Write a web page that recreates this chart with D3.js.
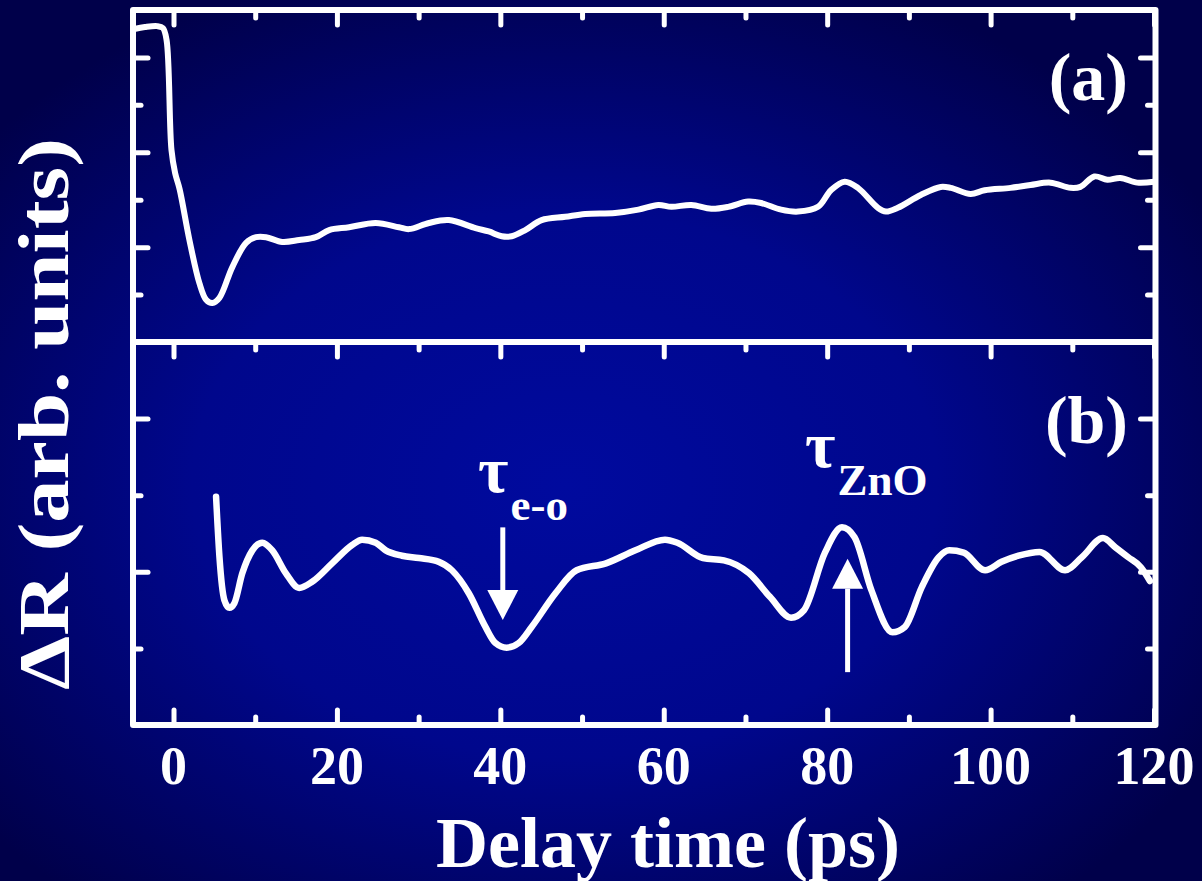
<!DOCTYPE html>
<html>
<head>
<meta charset="utf-8">
<script src="https://cdn.jsdelivr.net/npm/d3@7"></script>
<style>
  html, body { margin: 0; padding: 0; background: #000050; }
  svg { display: block; }
  text { font-family: "Liberation Serif", "Times New Roman", serif; font-weight: bold; fill: #fff; }
</style>
</head>
<body>
<div id="chart"></div>
<script>
// ---- data ----
// panel (a): delay (ps), dR (arb.)
const delayA = [-4.8, -3.5, -2, -1.3, -0.85, -0.25, 0.2, 0.75, 1.95, 3.17, 3.99, 4.76, 5.62, 7.2, 8.88, 10.1, 11.32, 13.31, 15.38, 17.42, 19.05, 21.49, 24.75, 27.59, 28.82, 31.26, 33.7, 36.96, 38.58, 40.17, 41.39, 43.06, 45.05, 47.95, 50.39, 54.05, 56.9, 59.34, 60.93, 63.37, 65.81, 67.89, 70.33, 71.92, 74.36, 76.43, 78.88, 80.46, 82.14, 83.76, 86.2, 87.18, 88.64, 91.45, 93.89, 95.12, 97.56, 99.27, 102.44, 104.88, 107.33, 109.77, 110.99, 112.7, 114.29, 115.87, 117.95, 120];
const valueA = [6.6, 6.64, 6.66, 6.62, 6.37, 4.05, 3.56, 3.22, 2.15, 1.24, 0.89, 0.82, 0.93, 1.58, 2.09, 2.21, 2.21, 2.11, 2.15, 2.21, 2.36, 2.42, 2.51, 2.42, 2.38, 2.51, 2.57, 2.4, 2.33, 2.23, 2.23, 2.36, 2.57, 2.64, 2.7, 2.72, 2.79, 2.89, 2.85, 2.89, 2.81, 2.85, 2.96, 2.93, 2.79, 2.75, 2.85, 3.2, 3.38, 3.25, 2.83, 2.75, 2.83, 3.1, 3.27, 3.25, 3.12, 3.2, 3.25, 3.31, 3.36, 3.25, 3.27, 3.49, 3.42, 3.46, 3.36, 3.38];

// panel (b): oscillatory part
const delayB = [5.21, 5.62, 6.23, 6.84, 7.45, 8.42, 9.65, 10.87, 12.09, 13.76, 15.38, 16.97, 19.41, 21.86, 23.08, 24.75, 25.97, 27.96, 30.04, 32.48, 34.07, 36.14, 38.18, 39.4, 40.78, 42.25, 43.83, 46.75, 49.33, 52.93, 56.53, 60.15, 61.66, 64.79, 67.36, 70.45, 73.02, 75.58, 77.17, 79.73, 81.81, 83.35, 85.41, 87.99, 89.5, 91.58, 93.65, 94.95, 96.7, 99.33, 101.34, 103.42, 105.98, 109.11, 111.17, 113.75, 115.27, 116.85, 118.39, 119.5];
const valueB = [2.98, 2.2, 1.63, 1.53, 1.59, 1.98, 2.28, 2.38, 2.28, 1.98, 1.79, 1.87, 2.11, 2.35, 2.42, 2.38, 2.28, 2.21, 2.18, 2.13, 2.02, 1.72, 1.28, 1.07, 1.01, 1.07, 1.28, 1.72, 2.02, 2.11, 2.28, 2.42, 2.38, 2.18, 2.15, 1.98, 1.67, 1.4, 1.5, 2.25, 2.58, 2.45, 1.76, 1.21, 1.28, 1.8, 2.19, 2.28, 2.25, 2.02, 2.13, 2.21, 2.26, 2.02, 2.19, 2.44, 2.32, 2.19, 2.06, 1.88];

const xTicks = [0, 20, 40, 60, 80, 100, 120];
const xMinor = [10, 30, 50, 70, 90, 110];
const yTicksA = [2, 4, 6], yMinorA = [1, 3, 5];
const yTicksB = [2, 4], yMinorB = [1, 3];

// annotations: arrows in panel b units
const arrowEO = {x: 40.3, from: 2.58, to: 1.37, label: "e-o"};
const arrowZnO = {x: 82.5, from: 0.69, to: 2.17, label: "ZnO"};

// ---- layout ----
const W = 1202, H = 881;
const L = 133, R = 1155.5, TOP = 10, MID = 342, BOT = 725;

const svg = d3.select("#chart").append("svg")
  .attr("width", W).attr("height", H);

const defs = svg.append("defs");
const grad = defs.append("radialGradient").attr("id", "bg")
  .attr("cx", 0.47).attr("cy", 0.55).attr("r", 0.62);
grad.append("stop").attr("offset", 0).attr("stop-color", "#000a9e");
grad.append("stop").attr("offset", 0.5).attr("stop-color", "#00078c");
grad.append("stop").attr("offset", 1).attr("stop-color", "#00004a");
svg.append("rect").attr("width", W).attr("height", H).attr("fill", "url(#bg)");

const x = d3.scaleLinear().domain([(L - 173.5) / 8.171, (R - 173.5) / 8.171]).range([L, R]);
const yA = d3.scaleLinear().domain([0, 7]).range([MID, TOP]);
const yB = d3.scaleLinear().domain([0, 5]).range([BOT, MID]);

const MAJ = 15, MIN = 8;

// inward ticks: "down" for a top edge, "up" for a bottom edge
function ticksH(yPos, down, vals, len) {
  const ax = (down ? d3.axisTop(x) : d3.axisBottom(x))
    .tickValues(vals).tickSize(-len).tickFormat("");
  const g = svg.append("g").attr("transform", `translate(0,${yPos})`).call(ax);
  g.select(".domain").remove();
  g.selectAll("line").attr("stroke", "#fff").attr("stroke-width", 5).attr("stroke-linecap", "round");
}
function ticksV(xPos, leftSide, scale, vals, len) {
  const ax = (leftSide ? d3.axisLeft(scale) : d3.axisRight(scale))
    .tickValues(vals).tickSize(-len).tickFormat("");
  const g = svg.append("g").attr("transform", `translate(${xPos},0)`).call(ax);
  g.select(".domain").remove();
  g.selectAll("line").attr("stroke", "#fff").attr("stroke-width", 5).attr("stroke-linecap", "round");
}

// panel a: top ticks, left/right ticks
ticksH(TOP, true, xTicks, MAJ); ticksH(TOP, true, xMinor, MIN);
ticksV(L, true, yA, yTicksA, MAJ); ticksV(L, true, yA, yMinorA, MIN);
ticksV(R, false, yA, yTicksA, MAJ); ticksV(R, false, yA, yMinorA, MIN);
// panel b: top (from divider, pointing down) and bottom ticks
ticksH(MID, true, xTicks, MAJ); ticksH(MID, true, xMinor, MIN);
ticksH(BOT, false, xTicks, MAJ); ticksH(BOT, false, xMinor, MIN);
ticksV(L, true, yB, yTicksB, MAJ); ticksV(L, true, yB, yMinorB, MIN);
ticksV(R, false, yB, yTicksB, MAJ); ticksV(R, false, yB, yMinorB, MIN);

// frames
svg.append("rect").attr("x", L).attr("y", TOP).attr("width", R - L).attr("height", BOT - TOP)
  .attr("fill", "none").attr("stroke", "#fff").attr("stroke-width", 6).attr("stroke-linejoin", "round");
svg.append("line").attr("x1", L).attr("x2", R).attr("y1", MID).attr("y2", MID)
  .attr("stroke", "#fff").attr("stroke-width", 6);

// curves
const lineA = d3.line().x((d, i) => x(delayA[i])).y(d => yA(d)).curve(d3.curveCatmullRom.alpha(0.5));
const lineB = d3.line().x((d, i) => x(delayB[i])).y(d => yB(d)).curve(d3.curveMonotoneX);
svg.append("path").attr("d", lineA(valueA)).attr("fill", "none")
  .attr("stroke", "#fff").attr("stroke-width", 6).attr("stroke-linejoin", "round").attr("stroke-linecap", "round");
svg.append("path").attr("d", lineB(valueB)).attr("fill", "none")
  .attr("stroke", "#fff").attr("stroke-width", 6.5).attr("stroke-linejoin", "round").attr("stroke-linecap", "round");

// x tick labels
svg.append("g").selectAll("text").data(xTicks).join("text")
  .attr("x", d => x(d)).attr("y", 784).attr("text-anchor", "middle")
  .attr("font-size", 54).text(d => d);

// axis titles
svg.append("text").attr("x", 668).attr("y", 867).attr("text-anchor", "middle")
  .attr("font-size", 72).text("Delay time (ps)");
svg.append("text").attr("transform", "translate(68,414) rotate(-90)").attr("text-anchor", "middle")
  .attr("font-size", 72).attr("textLength", 552).attr("lengthAdjust", "spacingAndGlyphs")
  .text("ΔR (arb. units)");

// panel labels
svg.append("text").attr("x", 1128).attr("y", 100).attr("text-anchor", "end").attr("font-size", 68).text("(a)");
svg.append("text").attr("x", 1128).attr("y", 443).attr("text-anchor", "end").attr("font-size", 68).text("(b)");

// arrows with tau labels
function arrow(a, labX, tauY, subDy) {
  const xp = x(a.x), y0 = yB(a.from), y1 = yB(a.to);
  const dir = y1 > y0 ? 1 : -1, head = 30, hw = 15.5;
  svg.append("line").attr("x1", xp).attr("x2", xp).attr("y1", y0).attr("y2", y1 - dir * head)
    .attr("stroke", "#fff").attr("stroke-width", 5);
  svg.append("path")
    .attr("d", `M${xp - hw},${y1 - dir * head}L${xp + hw},${y1 - dir * head}L${xp},${y1}Z`)
    .attr("fill", "#fff");
  const t = svg.append("text").attr("x", labX).attr("y", tauY);
  t.append("tspan").attr("font-size", 66).text("τ");
  t.append("tspan").attr("font-size", 45).attr("dy", subDy).attr("dx", 2).text(a.label);
}
arrow(arrowEO, 478, 492, 28);
arrow(arrowZnO, 805, 467, 28);
</script>
</body>
</html>
